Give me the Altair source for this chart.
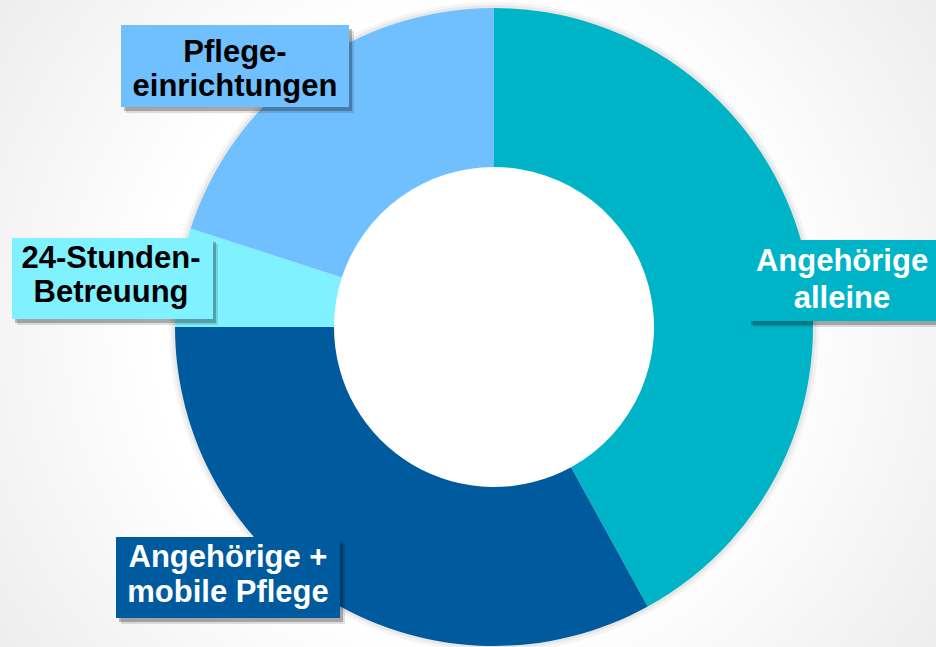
import altair as alt
import pandas as pd

# ---- data ----
categories = ["Angehörige alleine", "Angehörige + mobile Pflege", "24-Stunden-Betreuung", "Pflegeeinrichtungen"]
shares = [42, 33, 5, 20]
seg_colors = ["#00B4C8", "#005A9E", "#80F2FF", "#70BFFF"]

# label texts (two lines each), text colours
label_line1 = ["Angehörige", "Angehörige +", "24-Stunden-", "Pflege-"]
label_line2 = ["alleine", "mobile Pflege", "Betreuung", "einrichtungen"]
label_text_colors = ["#FFFFFF", "#FFFFFF", "#000000", "#000000"]

# label box layout (pixels)
box_x1 = [748, 116, 12, 121]
box_x2 = [940, 340, 213, 349]
box_y1 = [240, 537, 238, 25]
box_y2 = [321, 618, 319, 107]
text_cx = [842, 228, 111, 235]
base1 = [271, 567, 268, 62]
base2 = [308, 602, 302, 96]

W, H = 936, 647
CX, CY = 494, 327
R_OUT, R_IN = 319, 160

seg = pd.DataFrame({"cat": categories, "share": shares, "idx": list(range(len(categories)))})

boxes = pd.DataFrame({
    "cat": categories, "x1": box_x1, "x2": box_x2, "y1": box_y1, "y2": box_y2,
    "fill": seg_colors,
})
boxes["sx1"] = boxes.x1 + 3
boxes["sx2"] = boxes.x2 + 3
boxes["sy1"] = boxes.y1 + 4
boxes["sy2"] = boxes.y2 + 4
boxes["tx1"] = boxes.x1 + 5
boxes["tx2"] = boxes.x2 + 5
boxes["ty1"] = boxes.y1 + 6
boxes["ty2"] = boxes.y2 + 6

lines = pd.DataFrame({
    "text": label_line1 + label_line2,
    "x": text_cx + text_cx,
    "y": base1 + base2,
    "tc": label_text_colors + label_text_colors,
})

bg = alt.Chart(pd.DataFrame({"a": [0]})).mark_rect(
    fill=alt.Gradient(
        gradient="radial",
        stops=[alt.GradientStop(color="#FFFFFF", offset=0),
               alt.GradientStop(color="#FFFFFF", offset=0.45),
               alt.GradientStop(color="#E4E4E4", offset=1)],
        x1=0.5, y1=0.5, r1=0, x2=0.5, y2=0.5, r2=0.75,
    )
).encode(x=alt.value(0), x2=alt.value(W), y=alt.value(0), y2=alt.value(H))

theta = alt.Theta("share:Q", stack=True)
order = alt.Order("idx:O")

glow1 = alt.Chart(seg).mark_arc(outerRadius=R_OUT + 6, innerRadius=R_OUT - 2, color="#000000", opacity=0.04).encode(
    theta=theta, order=order, x=alt.value(CX), y=alt.value(CY))
glow2 = alt.Chart(seg).mark_arc(outerRadius=R_OUT + 3, innerRadius=R_OUT - 2, color="#000000", opacity=0.05).encode(
    theta=theta, order=order, x=alt.value(CX), y=alt.value(CY))

ring = alt.Chart(seg).mark_arc(outerRadius=R_OUT, innerRadius=R_IN, stroke=None).encode(
    theta=theta,
    order=order,
    color=alt.Color("cat:N", scale=alt.Scale(domain=categories, range=seg_colors), legend=None),
    x=alt.value(CX), y=alt.value(CY),
)

shadow2 = alt.Chart(boxes).mark_rect(color="#000000", opacity=0.12).encode(
    x=alt.X("tx1:Q", scale=None), x2="tx2:Q", y=alt.Y("ty1:Q", scale=None), y2="ty2:Q")
shadow1 = alt.Chart(boxes).mark_rect(color="#000000", opacity=0.25).encode(
    x=alt.X("sx1:Q", scale=None), x2="sx2:Q", y=alt.Y("sy1:Q", scale=None), y2="sy2:Q")

box = alt.Chart(boxes).mark_rect().encode(
    x=alt.X("x1:Q", scale=None), x2="x2:Q", y=alt.Y("y1:Q", scale=None), y2="y2:Q",
    fill=alt.Fill("fill:N", scale=None),
)

text = alt.Chart(lines).mark_text(
    font="Liberation Sans", fontWeight="bold", fontSize=31, align="center", baseline="alphabetic"
).encode(
    x=alt.X("x:Q", scale=None), y=alt.Y("y:Q", scale=None),
    text="text:N", color=alt.Color("tc:N", scale=None),
)

chart = alt.layer(bg, glow1, glow2, ring, shadow2, shadow1, box, text).properties(
    width=W, height=H, autosize=alt.AutoSizeParams(type="none"), padding=0
).configure_view(stroke=None).configure(background="#FFFFFF")

chart.save("out.html", embed_options={"renderer": "svg", "actions": False})
